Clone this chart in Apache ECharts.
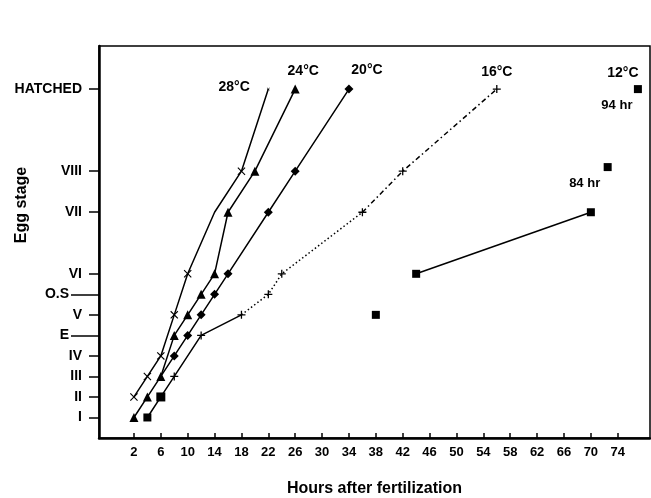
<!DOCTYPE html>
<html><head><meta charset="utf-8">
<script src="https://cdn.jsdelivr.net/npm/echarts@6/dist/echarts.min.js"></script>
<style>html,body{margin:0;padding:0;background:#fff}#c{width:651px;height:498px}</style>
</head><body><div id="c"></div>
<script>
// Stage scale: I=1, II=2, III=3, IV=4, E=5, V=6, O.S=7, VI=8, VII=11, VIII=13, HATCHED=17
const stageValues = [1, 2, 3, 4, 5, 6, 7, 8, 11, 13, 17];
const stageLabels = ['I', 'II', 'III', 'IV', 'E', 'V', 'O.S', 'VI', 'VII', 'VIII', 'HATCHED'];
const stageTicksShort = [1, 2, 3, 4, 6, 8, 11, 13, 17];
const stageTicksLong = [5, 7];
const hourTicks = [2, 6, 10, 14, 18, 22, 26, 30, 34, 38, 42, 46, 50, 54, 58, 62, 66, 70, 74];

const hours28 = [2, 4, 6, 8, 10, 14, 18, 22];
const stages28 = [2, 3, 4, 6, 8, 11, 13, 17];
const hours24 = [2, 4, 6, 8, 10, 12, 14, 16, 20, 26];
const stages24 = [1, 2, 3, 5, 6, 7, 8, 11, 13, 17];
const hours20 = [6, 8, 10, 12, 14, 16, 22, 26, 34];
const stages20 = [3, 4, 5, 6, 7, 8, 11, 13, 17];
const hours16 = [4, 6, 8, 12, 18, 22, 24, 36, 42, 56];
const stages16 = [1, 2, 3, 5, 6, 7, 8, 11, 13, 17];
const hours12Line = [44, 70];
const stages12Line = [8, 11];
const hours12Pts = [38, 72.5, 77];
const stages12Pts = [6, 13.2, 17];
const notes12 = ['', '84 hr', '94 hr'];

const FONT = 'Liberation Sans, Arial, Helvetica, sans-serif';
const nameOf = v => stageLabels[stageValues.indexOf(v)] || '';
const pts = (h, s) => h.map((x, i) => [x, s[i]]);

const X_PATH = 'path://M0,1L1,0L5,4L9,0L10,1L6,5L10,9L9,10L5,6L1,10L0,9L4,5Z';
const PLUS_PATH = 'path://M4.2,0H5.8V4.2H10V5.8H5.8V10H4.2V5.8H0V4.2H4.2Z';

const lbl = (text, position, distance, offset, size) => ({
  show: true, formatter: text, position, distance, offset,
  color: '#000', opacity: 1, fontFamily: FONT, fontWeight: 'bold', fontSize: size || 14
});

function withLast(data, label, extra) {
  return data.map((p, i) => {
    const item = { value: p };
    if (extra && extra[i]) Object.assign(item, extra[i]);
    if (i === data.length - 1 && label) item.label = label;
    return item;
  });
}

const lineBase = { type: 'line', color: '#000', lineStyle: { color: '#000', width: 1.5 }, itemStyle: { color: '#000', opacity: 1 }, animation: false, z: 3 };

const d28 = pts(hours28, stages28);
const d24 = pts(hours24, stages24);
const d20 = pts(hours20, stages20);
const d16 = pts(hours16, stages16);

const series = [
  Object.assign({}, lineBase, {
    name: '28°C', symbol: X_PATH, symbolSize: 8,
    data: withLast(d28, lbl('28°C', 'left', 17, [0, -2]), { 5: { symbolSize: 0 }, 7: { symbolSize: 3 } })
  }),
  Object.assign({}, lineBase, {
    name: '24°C', symbol: 'triangle', symbolSize: 9,
    data: withLast(d24, lbl('24°C', 'top', 6, [8, 0]))
  }),
  Object.assign({}, lineBase, {
    name: '20°C', symbol: 'diamond', symbolSize: 9,
    data: withLast(d20, lbl('20°C', 'top', 6, [18, -1]), { 0: { symbolSize: 0 } })
  }),
  Object.assign({}, lineBase, {
    name: '16°C', symbol: PLUS_PATH, symbolSize: 8,
    data: withLast(d16.slice(0, 5), null, { 0: { symbol: 'rect', symbolSize: 8 }, 1: { symbol: 'rect', symbolSize: 9 } })
  }),
  Object.assign({}, lineBase, {
    name: '16°C', symbol: PLUS_PATH, symbolSize: 8,
    lineStyle: { color: '#000', width: 1.5, type: [1.5, 2.5] },
    data: withLast(d16.slice(4, 8), null, { 0: { symbolSize: 0 } })
  }),
  Object.assign({}, lineBase, {
    name: '16°C', symbol: PLUS_PATH, symbolSize: 8,
    lineStyle: { color: '#000', width: 1.5, type: [5, 3, 1.5, 3] },
    data: withLast(d16.slice(7), lbl('16°C', 'top', 6, [0, 0]), { 0: { symbolSize: 0 } })
  }),
  Object.assign({}, lineBase, {
    name: '12°C', symbol: 'rect', symbolSize: 8,
    data: pts(hours12Line, stages12Line)
  }),
  {
    type: 'scatter', name: '12°C', symbol: 'rect', symbolSize: 8, animation: false, z: 3,
    itemStyle: { color: '#000', opacity: 1 },
    data: pts(hours12Pts, stages12Pts).map((p, i) => {
      const item = { value: p };
      if (notes12[i]) item.label = lbl(notes12[i], 'bottom', 6, [i === 2 ? -21 : -23, 0], 13);
      return item;
    })
  },
  {
    type: 'scatter', name: '12°C label', symbol: 'circle', symbolSize: 1, animation: false, z: 2,
    itemStyle: { color: '#fff', opacity: 1 },
    data: [{ value: [hours12Pts[2], stages12Pts[2]], label: lbl('12°C', 'top', 8, [-15, 0]) }]
  }
];

const chart = echarts.init(document.getElementById('c'), null, { renderer: 'canvas' });
chart.setOption({
  backgroundColor: '#fff',
  animation: false,
  grid: { left: 99, right: 1, top: 46, bottom: 60, outerBoundsMode: 'none', containLabel: false, show: true, borderColor: '#000', borderWidth: 1.5, backgroundColor: 'transparent' },
  xAxis: {
    type: 'value', min: -3.2, max: 78.8,
    name: 'Hours after fertilization', nameLocation: 'middle', nameGap: 43,
    nameTextStyle: { color: '#000', fontFamily: FONT, fontWeight: 'bold', fontSize: 16 },
    axisLine: { show: true, onZero: false, lineStyle: { color: '#000', width: 2.5 } },
    axisTick: { show: true, inside: true, length: 5, customValues: hourTicks, lineStyle: { color: '#000', width: 1.5 } },
    axisLabel: { show: true, customValues: hourTicks, margin: 8, color: '#000', fontFamily: FONT, fontWeight: 'bold', fontSize: 13 },
    splitLine: { show: false }
  },
  yAxis: [
    {
      type: 'value', min: 0, max: 19.1, position: 'left',
      axisLine: { show: true, onZero: false, lineStyle: { color: '#000', width: 2.5 } },
      axisTick: { show: true, inside: false, length: 10, customValues: stageTicksShort, lineStyle: { color: '#000', width: 1.5 } },
      axisLabel: { show: true, customValues: stageTicksShort, margin: 17, formatter: nameOf, color: '#000', fontFamily: FONT, fontWeight: 'bold', fontSize: 14 },
      splitLine: { show: false }
    },
    {
      type: 'value', min: 0, max: 19.1, position: 'left',
      axisLine: { show: false, onZero: false },
      axisTick: { show: true, inside: false, length: 28, customValues: stageTicksLong, lineStyle: { color: '#000', width: 1.5 } },
      axisLabel: { show: true, customValues: stageTicksLong, margin: 30, formatter: nameOf, color: '#000', fontFamily: FONT, fontWeight: 'bold', fontSize: 14 },
      splitLine: { show: false }
    }
  ],
  graphic: [{
    type: 'text', x: 22, y: 205, rotation: Math.PI / 2,
    style: { text: 'Egg stage', fill: '#000', font: 'bold 16px ' + FONT, align: 'center', verticalAlign: 'middle', textAlign: 'center', textVerticalAlign: 'middle' }
  }],
  series: series
});
</script>
</body></html>
